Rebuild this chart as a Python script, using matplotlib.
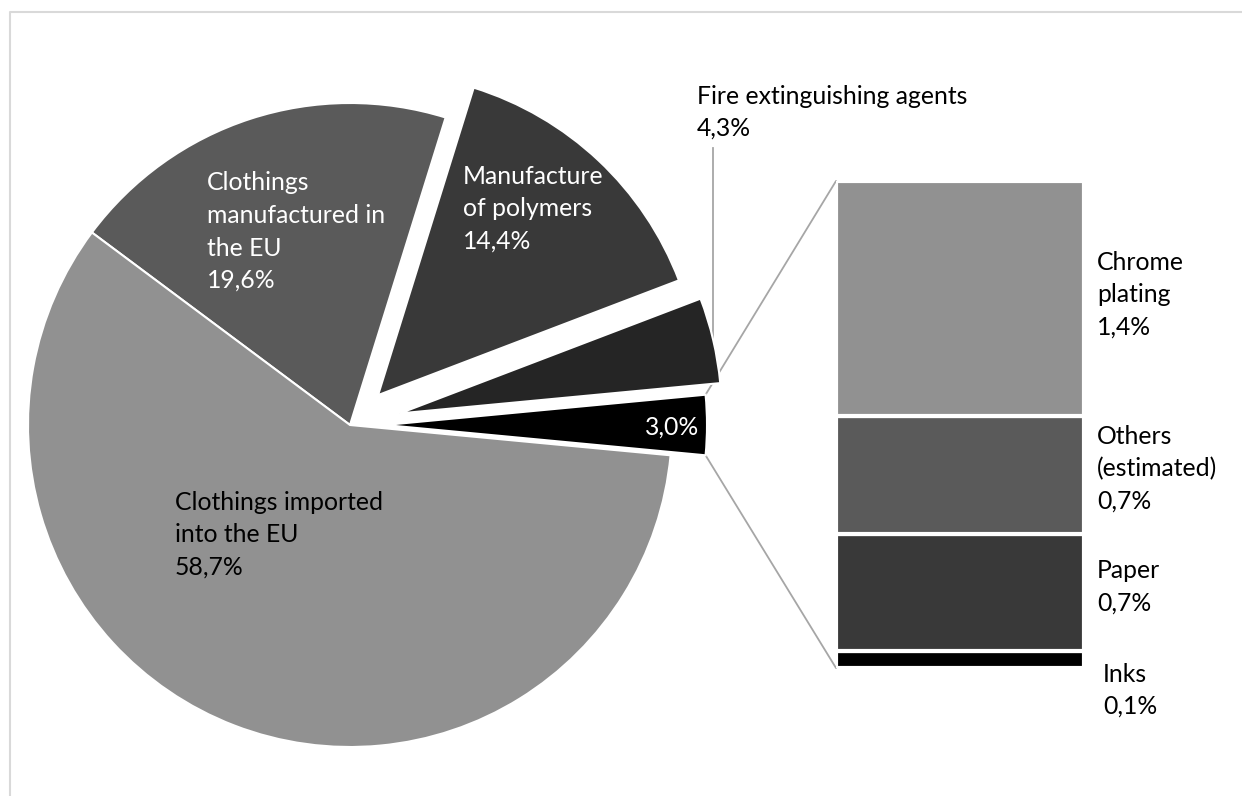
import numpy as np
import matplotlib.pyplot as plt
from matplotlib.patches import ConnectionPatch

plt.rcParams['font.family'] = ['Lato', 'DejaVu Sans']

# pie part (counter-clockwise from the exploded "other" slice)
pie_values = [3.0, 4.3, 14.4, 19.6, 58.7]
pie_colors = ['#000000', '#252525', '#393939', '#5a5a5a', '#919191']
pie_explode = [35, 51, 41, 0, 0]  # pixels, the main axes works in pixel units

# bar part, from bottom to top
bar_names = ['Inks', 'Paper', 'Others\n(estimated)', 'Chrome\nplating']
bar_values = [0.1, 0.7, 0.7, 1.4]
bar_colors = ['#000000', '#393939', '#5a5a5a', '#919191']

W, H = 1242, 796
FS = 17.8
fig = plt.figure(figsize=(W / 100, H / 100), dpi=100)
ax = fig.add_axes([0, 0, 1, 1])

wedges, _ = ax.pie(pie_values, colors=pie_colors, explode=pie_explode,
                   center=(350, H - 425), radius=322,
                   startangle=-pie_values[0] * 1.8, counterclock=True,
                   wedgeprops=dict(edgecolor='white', linewidth=1.5))
ax.set_xlim(0, W)
ax.set_ylim(0, H)
ax.set_aspect('equal')
ax.axis('off')

# light frame like the original chart area
ax.plot([10, 10, W], [0, H - 12, H - 12], color='#d9d9d9', lw=1.5, clip_on=False)

# bar of the "other" slice
ax2 = fig.add_axes([836 / W, (H - 668) / H, 248 / W, 487 / H])
bottom = 0
for v, c in zip(bar_values, bar_colors):
    ax2.bar(0, v, width=1, bottom=bottom, color=c, edgecolor='white', linewidth=3)
    bottom += v
ax2.set_xlim(-0.5, 0.5)
ax2.set_ylim(0, sum(bar_values))
ax2.axis('off')

# connector lines from the slice to the bar
w = wedges[0]
cx, cy = w.center
for th, yb in [(w.theta2, sum(bar_values)), (w.theta1, 0)]:
    p = (cx + w.r * np.cos(np.radians(th)), cy + w.r * np.sin(np.radians(th)))
    con = ConnectionPatch(xyA=p, coordsA=ax.transData, xyB=(-0.5, yb), coordsB=ax2.transData,
                          color='#a6a6a6', lw=1.3, zorder=0.5)
    ax.add_artist(con)

# leader of fire extinguishing agents
wf = wedges[1]
tm = np.radians((wf.theta1 + wf.theta2) / 2)
px = wf.center[0] + wf.r * np.cos(tm)
py = wf.center[1] + wf.r * np.sin(tm)
ax.plot([px, px], [py, H - 148], color='#a6a6a6', lw=1.3, zorder=0.5)


def label(x, y, s, color='black', ls=1.5):
    # y is the baseline of the last line, in image pixels
    ax.text(x, H - y, s, color=color, fontsize=FS, ha='left', va='baseline',
            linespacing=ls)


label(697, 136, 'Fire extinguishing agents\n4,3%')
label(207, 288, 'Clothings\nmanufactured in\nthe EU\n19,6%', color='white')
label(463, 249, 'Manufacture\nof polymers\n14,4%', color='white')
label(175, 575, 'Clothings imported\ninto the EU\n58,7%')
label(645, 435, '3,0%', color='white')

# bar labels
label(1097, 335, 'Chrome\nplating\n1,4%')
label(1097, 509, 'Others\n(estimated)\n0,7%')
label(1097, 611, 'Paper\n0,7%')
label(1103, 714, 'Inks\n0,1%')

fig.savefig('out.png', dpi=100, facecolor='white')
